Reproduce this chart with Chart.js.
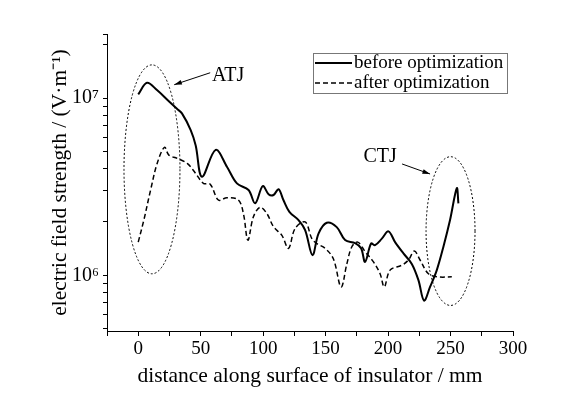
<!DOCTYPE html>
<html>
<head>
<meta charset="utf-8">
<script src="https://cdn.jsdelivr.net/npm/chart.js@4/dist/chart.umd.min.js"></script>
<style>
html, body { margin: 0; padding: 0; background: #fff; }
#wrap { width: 565px; height: 395px; }
</style>
</head>
<body>
<div id="wrap"><canvas id="myChart"></canvas></div>
<script>
var seriesNames = ['before optimization', 'after optimization'];

var beforeX = [0, 7, 15, 24.5, 31, 35, 42, 46, 51, 62, 71, 79, 88.3, 93.6, 99.7, 104.3, 108.3, 112.3, 116.3, 121,
  128.3, 133.6, 139.5, 144.3, 150.9, 158.9, 165.6, 173.6, 178.4, 181.6, 186.4, 189.6, 195, 200.3, 205.6, 212.3,
  219, 224.3, 228.8, 233.6, 239, 244.3, 249.6, 255, 256.3];
var beforeE = [1.05e7, 1.22e7, 1.11e7, 9.6e6, 8.7e6, 8.2e6, 6.6e6, 5.4e6, 3.6e6, 5.1e6, 4.1e6, 3.3e6, 3.03e6, 2.55e6, 3.19e6, 2.87e6, 2.84e6, 3.06e6, 2.65e6, 2.28e6,
  2.05e6, 1.8e6, 1.3e6, 1.72e6, 1.98e6, 1.87e6, 1.58e6, 1.52e6, 1.42e6, 1.19e6, 1.51e6, 1.48e6, 1.61e6, 1.77e6, 1.54e6, 1.33e6,
  1.16e6, 9.4e5, 7.2e5, 8.6e5, 1.07e6, 1.45e6, 2.05e6, 3.1e6, 2.55e6];

var afterX = [0, 4.5, 9.9, 15.2, 21, 24.5, 31.2, 39.2, 45.8, 52.2, 57.6, 64.2, 71, 80.2, 84.2, 87.8, 92.2, 97.6, 103, 108.3,
  115, 120.3, 125.6, 133.6, 139, 143, 149.6, 156.2, 162.4, 167, 171, 175.7, 181.6, 188.3, 193.6, 197, 201.6, 211,
  216.3, 221, 225.6, 232.3, 240.3, 251];
var afterE = [1.54e6, 2.05e6, 3.03e6, 4.29e6, 5.28e6, 4.77e6, 4.57e6, 4.28e6, 3.77e6, 3.3e6, 3.27e6, 2.66e6, 2.74e6, 2.66e6, 2.23e6, 1.58e6, 2.14e6, 2.42e6, 2.23e6, 1.88e6,
  1.68e6, 1.42e6, 1.84e6, 2.0e6, 1.61e6, 1.51e6, 1.42e6, 1.24e6, 8.6e5, 1.16e6, 1.45e6, 1.54e6, 1.36e6, 1.19e6, 1.02e6, 8.6e5, 1.07e6, 1.14e6,
  1.22e6, 1.37e6, 1.22e6, 1.02e6, 9.8e5, 9.8e5];

var xMin = -25, xMax = 300, xStep = 25;
var yMin = 4.85e5, yMax = 2.3e7;
var yTicks = [5e5, 6e5, 7e5, 8e5, 9e5, 1e6, 2e6, 3e6, 4e6, 5e6, 6e6, 7e6, 8e6, 9e6, 1e7, 2e7, 2.3e7];
var yTickLabels = { 1000000: '10\u2076', 10000000: '10\u2077' };

// junction markers: [xmin, xmax, Etop, Ebottom]
var atjEllipse = [-11.4, 33.4, 1.54e7, 1.02e6];
var ctjEllipse = [230.4, 269.6, 4.67e6, 6.76e5];
// label: [x, E], arrow: [x1, E1, x2, E2]
var atjLabel = [72, 1.34e7], atjArrow = [57.6, 1.39e7, 28.8, 1.19e7];
var ctjLabel = [193.6, 4.66e6], ctjArrow = [211.2, 4.25e6, 233.6, 3.73e6];

function toPoints(xs, ys) {
  return xs.map(function (x, i) { return { x: x, y: ys[i] }; });
}

var serif = "'Liberation Serif', 'Times New Roman', serif";
var titleFont = { family: serif, size: 21.5 };
var xTickFont = { family: serif, size: 19 };
var yTickFont = { family: serif, size: 20 };

var junctionPlugin = {
  id: 'junctions',
  afterDatasetsDraw: function (chart) {
    var ctx = chart.ctx, xs = chart.scales.x, ys = chart.scales.y;
    ctx.save();
    ctx.strokeStyle = '#000';
    ctx.lineWidth = 1;
    ctx.setLineDash([2, 2]);
    [atjEllipse, ctjEllipse].forEach(function (e) {
      var x1 = xs.getPixelForValue(e[0]), x2 = xs.getPixelForValue(e[1]);
      var y1 = ys.getPixelForValue(e[2]), y2 = ys.getPixelForValue(e[3]);
      ctx.beginPath();
      ctx.ellipse((x1 + x2) / 2, (y1 + y2) / 2, (x2 - x1) / 2, (y2 - y1) / 2, 0, 0, Math.PI * 2);
      ctx.stroke();
    });
    ctx.setLineDash([]);
    [atjArrow, ctjArrow].forEach(function (a) {
      var px1 = xs.getPixelForValue(a[0]), py1 = ys.getPixelForValue(a[1]);
      var px2 = xs.getPixelForValue(a[2]), py2 = ys.getPixelForValue(a[3]);
      var ang = Math.atan2(py2 - py1, px2 - px1);
      ctx.beginPath();
      ctx.moveTo(px1, py1);
      ctx.lineTo(px2, py2);
      ctx.stroke();
      ctx.beginPath();
      ctx.moveTo(px2, py2);
      ctx.lineTo(px2 - 8 * Math.cos(ang - 0.3), py2 - 8 * Math.sin(ang - 0.3));
      ctx.lineTo(px2 - 8 * Math.cos(ang + 0.3), py2 - 8 * Math.sin(ang + 0.3));
      ctx.closePath();
      ctx.fillStyle = '#000';
      ctx.fill();
    });
    ctx.fillStyle = '#000';
    ctx.font = '20px ' + serif;
    ctx.textAlign = 'center';
    ctx.textBaseline = 'middle';
    ctx.fillText('ATJ', xs.getPixelForValue(atjLabel[0]), ys.getPixelForValue(atjLabel[1]));
    ctx.fillText('CTJ', xs.getPixelForValue(ctjLabel[0]), ys.getPixelForValue(ctjLabel[1]));
    ctx.restore();
  }
};

var legendPlugin = {
  id: 'boxLegend',
  afterDraw: function (chart) {
    var ctx = chart.ctx, area = chart.chartArea;
    var w = 194, h = 40;
    var left = area.right - 6 - w, top = area.top + 19;
    ctx.save();
    ctx.strokeStyle = '#777';
    ctx.lineWidth = 1;
    ctx.strokeRect(Math.round(left) + 0.5, Math.round(top) + 0.5, w, h);
    ctx.font = '19px ' + serif;
    ctx.fillStyle = '#000';
    ctx.textBaseline = 'middle';
    ctx.textAlign = 'left';
    chart.data.datasets.forEach(function (ds, i) {
      var y = top + 10 + i * 20;
      ctx.strokeStyle = '#000';
      ctx.lineWidth = ds.borderWidth;
      ctx.setLineDash(ds.borderDash || []);
      ctx.beginPath();
      ctx.moveTo(left + 2, y);
      ctx.lineTo(left + 39, y);
      ctx.stroke();
      ctx.fillText(ds.label, left + 41, y);
    });
    ctx.restore();
  }
};

var ctx = document.getElementById('myChart').getContext('2d');

var chartData = {
  type: 'line',
  data: {
    datasets: [
      {
        label: seriesNames[0],
        data: toPoints(beforeX, beforeE),
        borderColor: '#000',
        borderWidth: 2,
        pointRadius: 0,
        tension: 0.35,
        fill: false
      },
      {
        label: seriesNames[1],
        data: toPoints(afterX, afterE),
        borderColor: '#000',
        borderWidth: 1.5,
        borderDash: [5, 3],
        pointRadius: 0,
        tension: 0.35,
        fill: false
      }
    ]
  },
  options: {
    responsive: true,
    maintainAspectRatio: false,
    animation: false,
    layout: { padding: { top: 34, right: 52, left: 0, bottom: 0 } },
    plugins: { legend: { display: false }, tooltip: { enabled: false } },
    scales: {
      x: {
        type: 'linear',
        min: xMin,
        max: xMax,
        afterFit: function (s) { s.height = 64; },
        border: { color: '#000', width: 1 },
        grid: { drawOnChartArea: false, tickLength: 5, tickColor: '#000' },
        ticks: {
          stepSize: xStep,
          autoSkip: false,
          maxRotation: 0,
          padding: 2,
          color: '#000',
          font: xTickFont,
          callback: function (v) { return v % 50 === 0 ? String(v) : ''; }
        },
        title: {
          display: true,
          text: 'distance along surface of insulator / mm',
          color: '#000',
          font: titleFont,
          padding: { top: 0, bottom: 6 }
        }
      },
      y: {
        type: 'logarithmic',
        min: yMin,
        max: yMax,
        afterFit: function (s) { s.width = 107; },
        afterBuildTicks: function (s) {
          s.ticks = yTicks.map(function (v) { return { value: v }; });
        },
        border: { color: '#000', width: 1 },
        grid: { drawOnChartArea: false, tickLength: 4, tickColor: '#000' },
        ticks: {
          autoSkip: false,
          padding: 4,
          color: '#000',
          font: yTickFont,
          callback: function (v) { return yTickLabels[v] || ''; }
        },
        title: {
          display: true,
          text: 'electric field strength / (V\u00b7m\u207b\u00b9)',
          color: '#000',
          font: titleFont,
          padding: { top: 47, bottom: 0 }
        }
      }
    }
  },
  plugins: [junctionPlugin, legendPlugin]
};

var myChart = new Chart(ctx, chartData);
</script>
</body>
</html>
